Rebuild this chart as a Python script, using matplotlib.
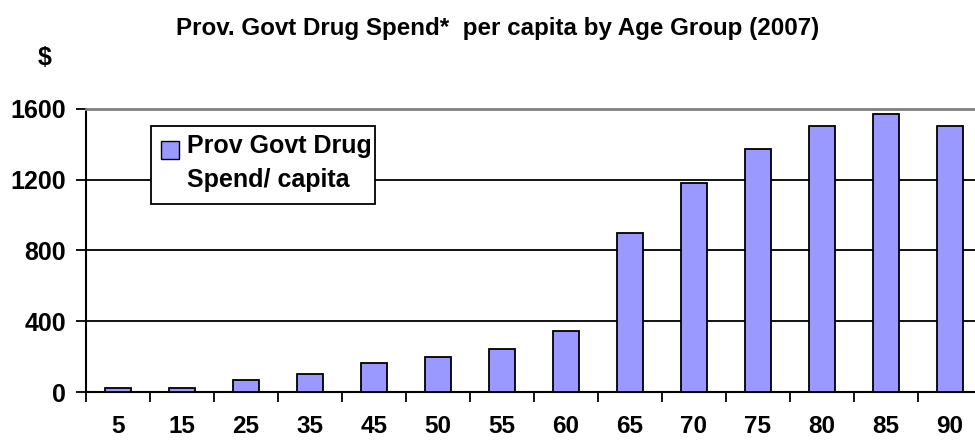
import matplotlib
matplotlib.use("Agg")
import matplotlib.pyplot as plt
from matplotlib.patches import Rectangle

plt.rcParams['font.family'] = ['Liberation Sans', 'DejaVu Sans']
plt.rcParams['font.weight'] = 'bold'

age_groups = ["5", "15", "25", "35", "45", "50", "55", "60",
              "65", "70", "75", "80", "85", "90"]
spend_per_capita = [20, 20, 65, 100, 165, 200, 245, 345,
                    900, 1180, 1375, 1500, 1570, 1500]
y_ticks = [0, 400, 800, 1200, 1600]
series_label_lines = ["Prov Govt Drug", "Spend/ capita"]
title = "Prov. Govt Drug Spend*  per capita by Age Group (2007)"

bar_color = "#9999FF"

W, H = 975, 444
fig = plt.figure(figsize=(W / 100, H / 100), dpi=100)
ax_left, ax_right, ax_top, ax_bottom = 85.7, 981.7, 108.7, 392.0
ax = fig.add_axes([ax_left / W, 1 - ax_bottom / H,
                   (ax_right - ax_left) / W, (ax_bottom - ax_top) / H])


def axfrac(px, py):
    """Pixel position in the figure -> axes fraction."""
    return ((px - ax_left) / (ax_right - ax_left),
            (ax_bottom - py) / (ax_bottom - ax_top))


x = list(range(len(age_groups)))
ax.bar(x, spend_per_capita, width=0.41, color=bar_color,
       edgecolor="black", linewidth=1.3, zorder=3)

ax.set_xlim(-0.5, len(age_groups) - 0.5)
ax.set_ylim(0, 1600)

# Category labels at bar centres, tick marks at category boundaries
ax.set_xticks(x)
ax.set_xticklabels(age_groups, fontsize=17.5, fontweight='bold')
ax.set_xticks([i - 0.5 for i in range(len(age_groups) + 1)], minor=True)
ax.tick_params(axis='x', which='major', length=0, pad=16.5)
ax.tick_params(axis='x', which='minor', length=7, width=1.3,
               direction='out', color='black')

ax.set_yticks(y_ticks)
ax.set_yticklabels([str(v) for v in y_ticks], fontsize=18, fontweight='bold')
ax.tick_params(axis='y', length=7, width=1.3, direction='out', pad=7)

ax.yaxis.grid(True, color='black', linewidth=1.3, zorder=0)
ax.set_axisbelow(True)

for side in ('left', 'bottom'):
    ax.spines[side].set_color('black')
    ax.spines[side].set_linewidth(1.5)
ax.spines['top'].set_color('#808080')
ax.spines['top'].set_linewidth(2.0)
ax.spines['right'].set_visible(False)

# Legend: framed box, swatch beside the first line of the label
bx0, by0 = axfrac(151, 204)
bx1, by1 = axfrac(375, 126)
ax.add_patch(Rectangle((bx0, by0), bx1 - bx0, by1 - by0,
                       transform=ax.transAxes, facecolor='white',
                       edgecolor='black', linewidth=1.3, zorder=6))
sx0, sy0 = axfrac(161, 159)
sx1, sy1 = axfrac(179, 141)
ax.add_patch(Rectangle((sx0, sy0), sx1 - sx0, sy1 - sy0,
                       transform=ax.transAxes, facecolor=bar_color,
                       edgecolor='black', linewidth=1.0, zorder=7))
for line, base_y in zip(series_label_lines, [153, 187]):
    tx, ty = axfrac(187, base_y)
    ax.text(tx, ty, line, transform=ax.transAxes, fontsize=18,
            fontweight='bold', ha='left', va='baseline', zorder=8)

fig.text(0.510, 1 - 35 / H, title, ha='center', va='baseline',
         fontsize=17.4, fontweight='bold')
fig.text(0.046, 0.869, "$", ha='center', va='center',
         fontsize=18, fontweight='bold')

fig.savefig("out.png", dpi=100)
